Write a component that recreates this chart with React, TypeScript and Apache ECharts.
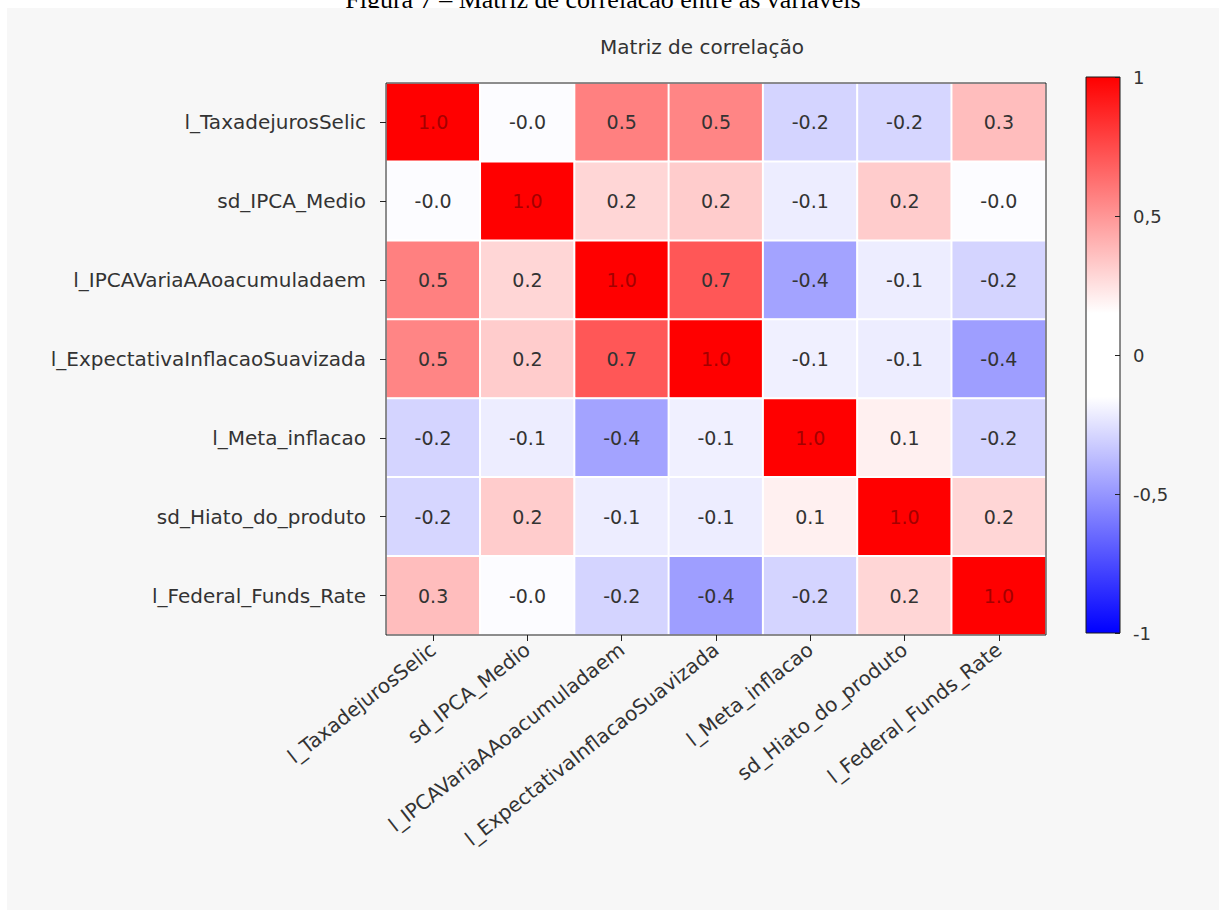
import React, { useEffect, useRef } from "react";
import * as echarts from "echarts";

const captionText = "Figura 7 – Matriz de correlação entre as variáveis";
const chartTitle = "Matriz de correlação";

const variables = [
  "l_TaxadejurosSelic",
  "sd_IPCA_Medio",
  "l_IPCAVariaAAoacumuladaem",
  "l_ExpectativaInflacaoSuavizada",
  "l_Meta_inflacao",
  "sd_Hiato_do_produto",
  "l_Federal_Funds_Rate",
];

const rowSelic = [1.0, -0.01, 0.5, 0.48, -0.17, -0.16, 0.26];
const rowIpcaMedio = [-0.01, 1.0, 0.16, 0.2, -0.07, 0.2, -0.01];
const rowIpcaAcum = [0.5, 0.16, 1.0, 0.66, -0.36, -0.07, -0.17];
const rowExpectativa = [0.48, 0.2, 0.66, 1.0, -0.06, -0.07, -0.38];
const rowMeta = [-0.17, -0.07, -0.36, -0.06, 1.0, 0.06, -0.17];
const rowHiato = [-0.16, 0.2, -0.07, -0.07, 0.06, 1.0, 0.16];
const rowFedFunds = [0.26, -0.01, -0.17, -0.38, -0.17, 0.16, 1.0];

const corrRows = [rowSelic, rowIpcaMedio, rowIpcaAcum, rowExpectativa, rowMeta, rowHiato, rowFedFunds];

const scaleMin = -1;
const scaleMax = 1;
const scaleStep = 0.5;

const FONT = "DejaVu Sans";

export default function App() {
  const ref = useRef<HTMLDivElement>(null);

  useEffect(() => {
    if (!ref.current) return;
    const chart = echarts.init(ref.current, null, { renderer: "svg" });

    const heatData: any[] = [];
    corrRows.forEach((row, i) => {
      row.forEach((v, j) => {
        heatData.push({
          value: [j, i, v],
          label: { color: v > 0.9 ? "#a40000" : "#333333" },
        });
      });
    });

    const option: any = {
      animation: false,
      textStyle: { fontFamily: FONT },
      graphic: [
        {
          type: "text",
          z: -10,
          x: 603,
          y: 12,
          style: {
            text: captionText,
            font: '26px "Liberation Serif"',
            fill: "#000",
            align: "center",
            verticalAlign: "bottom",
          },
        },
        {
          type: "rect",
          z: -9,
          shape: { x: 7, y: 8, width: 1212, height: 902 },
          style: { fill: "#f7f7f7" },
        },
        {
          type: "text",
          z: 5,
          x: 702,
          y: 47,
          style: {
            text: chartTitle,
            font: `20px "${FONT}"`,
            fill: "#333",
            align: "center",
            verticalAlign: "middle",
          },
        },
      ],
      grid: [
        {
          left: 386,
          top: 83,
          width: 660,
          height: 552,
          show: true,
          borderColor: "#1a1a1a",
          borderWidth: 1,
          backgroundColor: "transparent",
        },
        {
          left: 1086,
          top: 77,
          width: 34,
          height: 556,
          show: true,
          borderColor: "#1a1a1a",
          borderWidth: 1,
          backgroundColor: "transparent",
        },
      ],
      xAxis: [
        {
          type: "category",
          gridIndex: 0,
          data: variables,
          axisLine: { show: false },
          axisTick: { show: true, alignWithLabel: true, length: 6, lineStyle: { color: "#222" } },
          splitLine: { show: false },
          axisLabel: {
            rotate: 38,
            interval: 0,
            margin: 12,
            fontSize: 20,
            color: "#333",
            fontFamily: FONT,
          },
        },
        {
          type: "category",
          gridIndex: 1,
          data: ["escala"],
          show: false,
        },
      ],
      yAxis: [
        {
          type: "category",
          gridIndex: 0,
          data: variables,
          inverse: true,
          axisLine: { show: false },
          axisTick: { show: true, alignWithLabel: true, length: 6, lineStyle: { color: "#222" } },
          splitLine: { show: false },
          axisLabel: {
            interval: 0,
            margin: 20,
            fontSize: 20,
            color: "#333",
            fontFamily: FONT,
          },
        },
        {
          type: "value",
          gridIndex: 1,
          position: "right",
          min: scaleMin,
          max: scaleMax,
          interval: scaleStep,
          axisLine: { show: false },
          axisTick: { show: true, inside: true, length: 5, lineStyle: { color: "#222" } },
          splitLine: { show: false },
          axisLabel: {
            margin: 13,
            fontSize: 18,
            color: "#333",
            fontFamily: FONT,
            formatter: (v: number) => String(v).replace(".", ","),
          },
        },
      ],
      visualMap: {
        show: false,
        type: "continuous",
        seriesIndex: 0,
        dimension: 2,
        min: scaleMin,
        max: scaleMax,
        inRange: { color: ["#0000ff", "#ffffff", "#ff0000"] },
      },
      series: [
        {
          type: "heatmap",
          xAxisIndex: 0,
          yAxisIndex: 0,
          z: -1,
          data: heatData,
          itemStyle: { borderColor: "#ffffff", borderWidth: 2 },
          label: {
            show: true,
            fontSize: 19,
            fontFamily: FONT,
            formatter: (p: any) => p.value[2].toFixed(1),
          },
          emphasis: { disabled: true },
        },
        {
          type: "bar",
          xAxisIndex: 1,
          yAxisIndex: 1,
          z: -1,
          data: [scaleMax],
          barWidth: "100%",
          barGap: "-100%",
          silent: true,
          itemStyle: {
            color: {
              type: "linear",
              x: 0,
              y: 0,
              x2: 0,
              y2: 1,
              colorStops: [
                { offset: 0, color: "#ff0000" },
                { offset: 0.85, color: "#ffffff" },
                { offset: 1, color: "#ffffff" },
              ],
            },
          },
        },
        {
          type: "bar",
          xAxisIndex: 1,
          yAxisIndex: 1,
          z: -1,
          data: [scaleMin],
          barWidth: "100%",
          barGap: "-100%",
          silent: true,
          itemStyle: {
            color: {
              type: "linear",
              x: 0,
              y: 0,
              x2: 0,
              y2: 1,
              colorStops: [
                { offset: 0, color: "#ffffff" },
                { offset: 0.15, color: "#ffffff" },
                { offset: 1, color: "#0000ff" },
              ],
            },
          },
        },
      ],
    };

    chart.setOption(option);
    return () => chart.dispose();
  }, []);

  return (
    <div
      ref={ref}
      style={{ position: "absolute", left: 0, top: 0, width: 1219, height: 910 }}
    />
  );
}
